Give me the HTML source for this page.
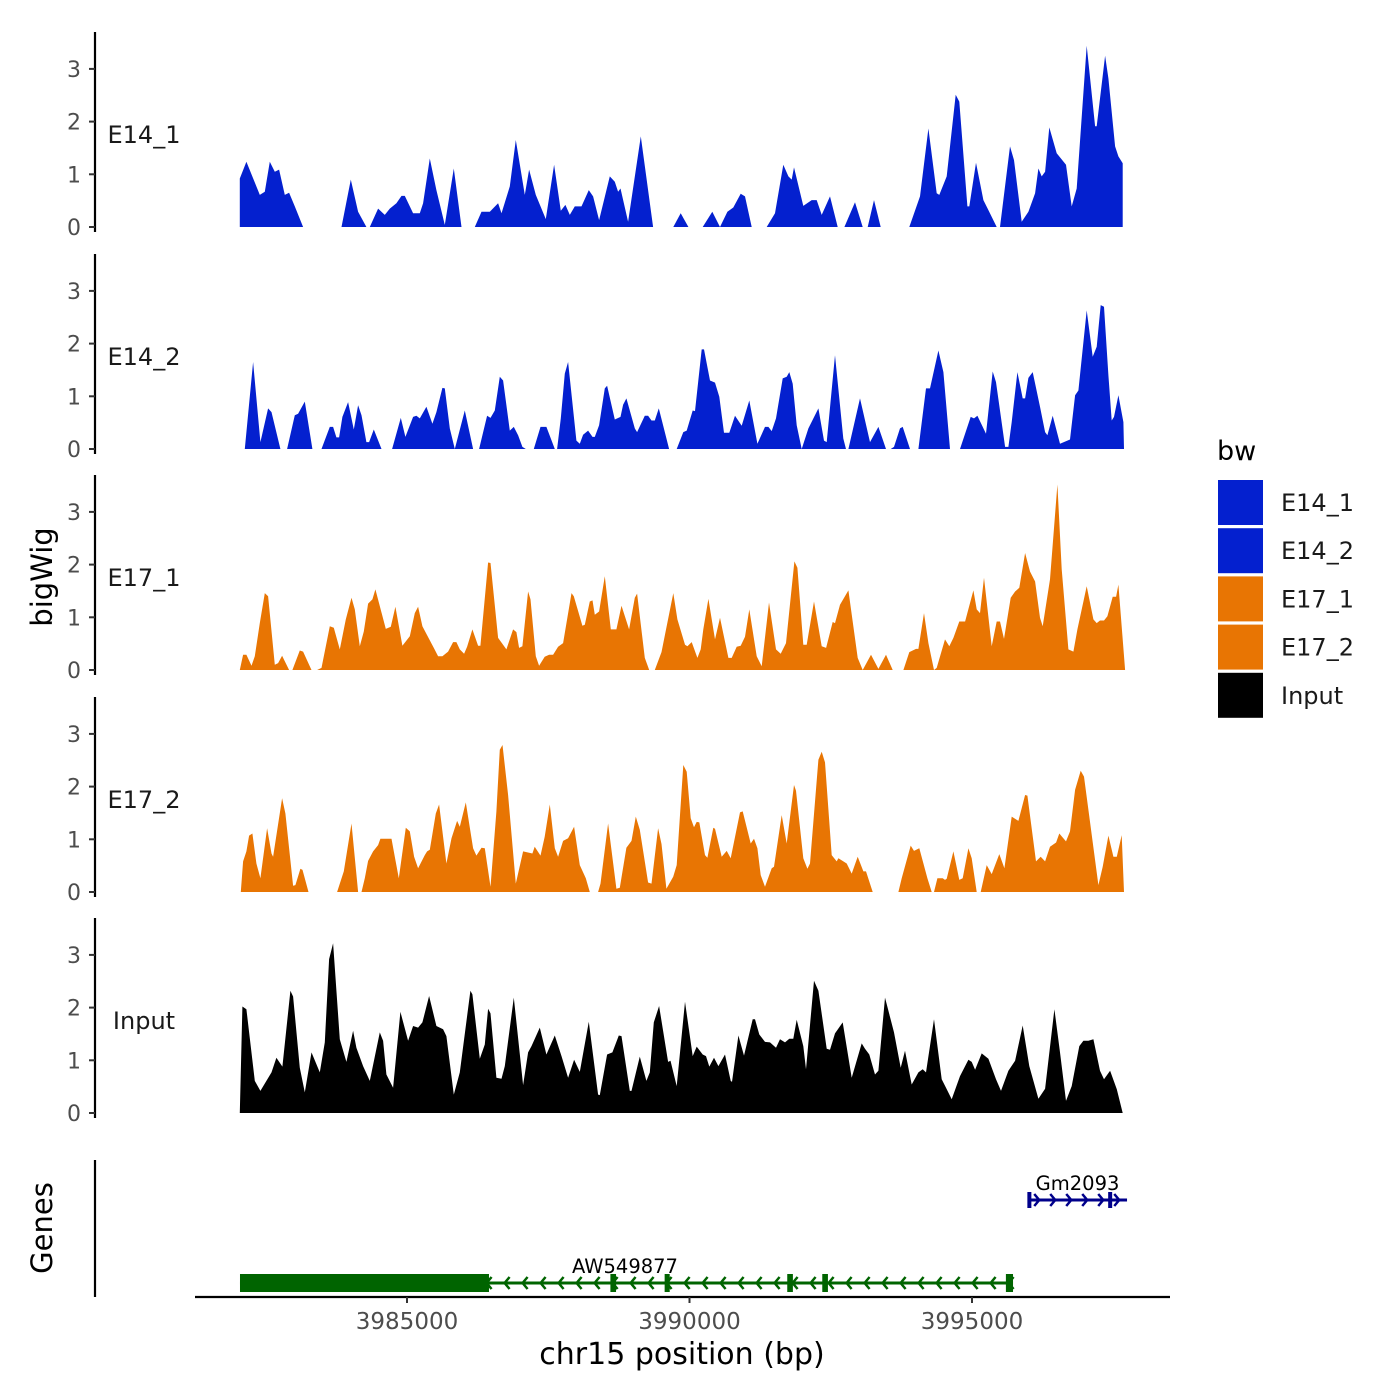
<!DOCTYPE html>
<html><head><meta charset="utf-8">
<style>
html,body{margin:0;padding:0;background:#fff;}
svg{display:block;font-family:"DejaVu Sans","Liberation Sans",sans-serif;}
</style></head>
<body>
<svg id="chart" width="1400" height="1400" viewBox="0 0 1400 1400" xmlns="http://www.w3.org/2000/svg">
<rect width="1400" height="1400" fill="#fff"/>
<g id="panels"></g>
<g id="genes"></g>
<g id="xaxis"></g>
<text x="42" y="577" font-size="29" text-anchor="middle" dominant-baseline="central" transform="rotate(-90 42 577)" fill="#000">bigWig</text>
<text x="42" y="1228" font-size="29" text-anchor="middle" dominant-baseline="central" transform="rotate(-90 42 1228)" fill="#000">Genes</text>
<text x="682" y="1364" font-size="30" text-anchor="middle" fill="#000">chr15 position (bp)</text>
<g id="legend"></g>
</svg>
<script>
const trackNames = ["E14_1","E14_2","E17_1","E17_2","Input"];
const trackColors = ["#0420cf","#0420cf","#e87503","#e87503","#000000"];
const yTicks = [0,1,2,3];
const xTicks = [3985000,3990000,3995000];
const xTickLabels = ["3985000","3990000","3995000"];

const E14_1 = [[3982040,0],[3982041,0.92],[3982158,1.24],[3982394,0.61],[3982483,0.67],[3982571,1.24],[3982660,1.05],[3982736,1.09],[3982837,0.61],[3982913,0.65],[3983014,0.39],[3983161,0],[3983500,null],
[3983840,0],[3984005,0.9],[3984135,0.29],[3984282,0],[3984341,0],[3984489,0.35],[3984607,0.23],[3984695,0.35],[3984813,0.45],[3984902,0.59],[3984961,0.59],[3985108,0.26],[3985226,0.26],[3985285,0.45],[3985403,1.30],[3985521,0.70],[3985669,0.04],[3985828,1.11],[3985964,0],[3986100,null],
[3986200,0],[3986318,0.29],[3986465,0.29],[3986613,0.45],[3986672,0.26],[3986819,0.77],[3986925,1.65],[3987085,0.61],[3987161,1.09],[3987279,0.61],[3987456,0.15],[3987604,1.18],[3987722,0.31],[3987804,0.42],[3987881,0.23],[3987970,0.39],[3988088,0.39],[3988217,0.70],[3988294,0.58],[3988400,0.13],[3988589,0.96],[3988678,0.86],[3988737,0.67],[3988778,0.73],[3988914,0.10],[3989138,1.72],[3989356,0],[3989500,null],
[3989714,0],[3989844,0.26],[3989980,0],[3990100,null],
[3990233,0],[3990404,0.29],[3990540,0],[3990670,0.29],[3990776,0.37],[3990906,0.63],[3990982,0.58],[3991101,0],[3991200,null],
[3991366,0],[3991514,0.26],[3991661,1.18],[3991750,0.96],[3991809,0.9],[3991850,1.13],[3992015,0.40],[3992163,0.51],[3992251,0.51],[3992340,0.23],[3992487,0.58],[3992623,0],[3992700,null],
[3992741,0],[3992930,0.47],[3993065,0],[3993100,null],[3993154,0],[3993266,0.51],[3993384,0],[3993600,null],
[3993891,0],[3994080,0.58],[3994228,1.87],[3994375,0.64],[3994422,0.61],[3994552,0.96],[3994711,2.51],[3994776,2.38],[3994918,0.39],[3994953,0.39],[3995071,1.22],[3995201,0.51],[3995290,0.32],[3995437,0],[3995496,0],[3995673,1.53],[3995744,1.27],[3995880,0.10],[3995998,0.29],[3996116,0.64],[3996175,1.11],[3996234,0.96],[3996293,1.05],[3996369,1.89],[3996499,1.40],[3996664,1.18],[3996765,0.39],[3996853,0.73],[3997030,3.44],[3997178,1.91],[3997207,1.91],[3997355,3.25],[3997414,2.82],[3997532,1.53],[3997591,1.34],[3997667,1.21],[3997668,0]];

const E14_2 = [[3982129,0],[3982276,1.65],[3982406,0.13],[3982542,0.77],[3982601,0.70],[3982760,0],[3982800,null],
[3982878,0],[3983014,0.64],[3983073,0.67],[3983191,0.9],[3983326,0],[3983400,null],
[3983486,0],[3983633,0.42],[3983692,0.42],[3983751,0.22],[3983798,0.22],[3983857,0.61],[3983958,0.89],[3984058,0.37],[3984135,0.83],[3984194,0.64],[3984282,0.13],[3984329,0.13],[3984412,0.37],[3984548,0],[3984600,null],
[3984736,0],[3984890,0.59],[3984972,0.23],[3985108,0.61],[3985167,0.63],[3985226,0.58],[3985344,0.80],[3985450,0.48],[3985521,0.70],[3985627,1.16],[3985669,1.15],[3985757,0.39],[3985846,0],[3986023,0.73],[3986170,0],[3986200,null],
[3986276,0],[3986418,0.63],[3986477,0.59],[3986554,0.73],[3986642,1.37],[3986701,1.30],[3986819,0.35],[3986890,0.42],[3986967,0.26],[3987043,0.04],[3987102,0],[3987150,null],
[3987244,0],[3987362,0.42],[3987468,0.42],[3987616,0],[3987657,0],[3987722,0.58],[3987793,1.43],[3987852,1.65],[3987999,0.16],[3988058,0.10],[3988117,0.27],[3988206,0.35],[3988283,0.23],[3988324,0.23],[3988400,0.45],[3988501,1.15],[3988542,1.20],[3988678,0.56],[3988778,0.61],[3988825,0.84],[3988884,0.96],[3989031,0.39],[3989073,0.32],[3989209,0.63],[3989268,0.63],[3989327,0.54],[3989385,0.54],[3989456,0.77],[3989639,0],[3989700,null],
[3989773,0],[3989891,0.32],[3989950,0.35],[3990056,0.73],[3990098,0.72],[3990216,1.89],[3990257,1.89],[3990363,1.30],[3990452,1.26],[3990528,0.99],[3990611,0.31],[3990705,0.31],[3990806,0.63],[3990924,0.44],[3991059,0.92],[3991201,0.10],[3991337,0.42],[3991396,0.42],[3991455,0.34],[3991531,0.58],[3991649,1.34],[3991720,1.37],[3991767,1.46],[3991826,1.24],[3991897,0.45],[3991986,0],[3992104,0.39],[3992281,0.77],[3992381,0.16],[3992428,0.13],[3992576,1.78],[3992723,0.20],[3992770,0],[3992790,null],
[3992812,0],[3993018,0.96],[3993195,0.13],[3993343,0.42],[3993478,0],[3993520,null],
[3993561,0],[3993620,0.04],[3993726,0.39],[3993773,0.42],[3993903,0],[3993950,null],
[3994051,0],[3994186,1.15],[3994257,1.15],[3994405,1.87],[3994493,1.46],[3994611,0],[3994700,null],
[3994788,0],[3994977,0.61],[3995036,0.58],[3995095,0.63],[3995248,0.29],[3995366,1.47],[3995425,1.27],[3995585,0.04],[3995644,0.04],[3995703,0.51],[3995803,1.46],[3995897,0.96],[3995939,0.96],[3995998,1.35],[3996074,1.46],[3996204,0.80],[3996293,0.32],[3996334,0.26],[3996428,0.63],[3996558,0.10],[3996735,0.18],[3996824,1.02],[3996883,1.11],[3997030,2.63],[3997136,1.75],[3997207,1.94],[3997278,2.73],[3997337,2.70],[3997414,1.40],[3997473,0.54],[3997514,0.61],[3997591,1.02],[3997679,0.51],[3997691,0]];

const E17_1 = [[3982040,0],[3982099,0.29],[3982158,0.29],[3982247,0.08],[3982306,0.26],[3982394,0.89],[3982483,1.46],[3982542,1.40],[3982660,0.10],[3982719,0.13],[3982789,0.27],[3982913,0],[3982972,0],[3983102,0.37],[3983161,0.35],[3983309,0],[3983360,null],
[3983409,0],[3983486,0.04],[3983633,0.83],[3983704,0.80],[3983810,0.39],[3983916,0.96],[3984017,1.37],[3984076,1.15],[3984164,0.45],[3984235,0.73],[3984312,1.26],[3984388,1.34],[3984441,1.53],[3984624,0.78],[3984713,0.82],[3984795,1.20],[3984919,0.46],[3985049,0.64],[3985138,1.08],[3985197,1.20],[3985273,0.83],[3985474,0.42],[3985551,0.26],[3985627,0.26],[3985728,0.35],[3985816,0.53],[3985875,0.53],[3985934,0.39],[3986011,0.31],[3986064,0.44],[3986158,0.77],[3986259,0.46],[3986300,0.46],[3986436,2.04],[3986477,2.03],[3986613,0.61],[3986760,0.39],[3986878,0.77],[3986937,0.72],[3986984,0.42],[3987043,0.45],[3987143,1.49],[3987185,1.34],[3987279,0.26],[3987338,0.08],[3987438,0.25],[3987515,0.29],[3987586,0.29],[3987675,0.44],[3987763,0.51],[3987911,1.46],[3987952,1.40],[3988105,0.84],[3988147,0.86],[3988235,1.30],[3988283,1.32],[3988324,1.05],[3988400,1.11],[3988501,1.78],[3988607,0.77],[3988707,0.77],[3988796,1.22],[3988931,0.77],[3989031,1.37],[3989073,1.45],[3989209,0.23],[3989286,0],[3989330,null],
[3989386,0],[3989504,0.34],[3989714,1.46],[3989785,0.96],[3989921,0.48],[3989962,0.45],[3990039,0.53],[3990139,0.23],[3990198,0.39],[3990245,0.77],[3990334,1.35],[3990452,0.58],[3990540,0.99],[3990688,0.23],[3990747,0.23],[3990835,0.44],[3990906,0.46],[3990982,0.63],[3991059,1.15],[3991189,0.26],[3991278,0.07],[3991407,1.28],[3991531,0.39],[3991614,0.31],[3991708,0.51],[3991856,2.06],[3991909,1.94],[3992015,0.48],[3992074,0.48],[3992203,1.30],[3992340,0.45],[3992417,0.42],[3992534,0.91],[3992576,0.89],[3992664,1.24],[3992812,1.51],[3992977,0.23],[3993065,0],[3993213,0.29],[3993343,0.02],[3993478,0.29],[3993596,0],[3993700,null],
[3993785,0],[3993891,0.34],[3994009,0.40],[3994051,0.40],[3994151,1.08],[3994228,0.51],[3994328,0],[3994375,0.04],[3994523,0.58],[3994599,0.45],[3994670,0.61],[3994776,0.92],[3994877,0.92],[3995024,1.51],[3995084,1.15],[3995142,1.08],[3995213,1.75],[3995349,0.45],[3995437,0.92],[3995496,0.92],[3995567,0.59],[3995685,1.37],[3995762,1.49],[3995838,1.56],[3995939,2.22],[3996027,1.87],[3996116,1.68],[3996204,0.99],[3996251,0.83],[3996381,1.72],[3996511,3.52],[3996588,1.91],[3996706,0.39],[3996794,0.35],[3996865,0.77],[3997030,1.59],[3997148,0.96],[3997207,0.89],[3997266,0.94],[3997337,0.94],[3997396,1.02],[3997491,1.39],[3997550,1.39],[3997591,1.62],[3997709,0]];

const E17_2 = [[3982058,0],[3982099,0.58],[3982158,0.77],[3982205,1.07],[3982264,1.11],[3982335,0.54],[3982406,0.26],[3982524,1.21],[3982601,0.73],[3982630,0.67],[3982789,1.78],[3982848,1.49],[3982984,0.12],[3983025,0.13],[3983114,0.44],[3983150,0.42],[3983256,0],[3983500,null],
[3983763,0],[3983881,0.39],[3984017,1.30],[3984135,0],[3984160,null],
[3984194,0],[3984253,0.26],[3984312,0.59],[3984400,0.77],[3984489,0.89],[3984530,1.01],[3984725,1.01],[3984784,0.67],[3984855,0.26],[3984978,1.22],[3985049,1.15],[3985126,0.67],[3985197,0.45],[3985315,0.70],[3985356,0.77],[3985403,0.80],[3985509,1.49],[3985569,1.66],[3985698,0.54],[3985787,1.02],[3985887,1.35],[3985934,1.24],[3986040,1.70],[3986170,0.83],[3986229,0.69],[3986318,0.84],[3986377,0.83],[3986477,0.10],[3986583,1.53],[3986642,2.70],[3986690,2.79],[3986790,1.84],[3986925,0.16],[3987055,0.77],[3987220,0.73],[3987261,0.86],[3987362,0.69],[3987438,1.05],[3987527,1.66],[3987616,0.83],[3987675,0.67],[3987763,0.97],[3987852,1.02],[3987958,1.24],[3988058,0.51],[3988164,0.26],[3988235,0],[3988300,null],
[3988383,0],[3988424,0.16],[3988560,1.30],[3988707,0.06],[3988766,0.08],[3988884,0.84],[3988973,0.97],[3989049,1.43],[3989120,1.18],[3989268,0.18],[3989327,0.16],[3989445,1.21],[3989504,0.91],[3989592,0.06],[3989711,0.29],[3989773,0.51],[3989891,2.41],[3989950,2.28],[3990021,1.40],[3990080,1.23],[3990127,1.33],[3990174,1.32],[3990275,0.70],[3990316,0.65],[3990422,1.22],[3990452,1.20],[3990570,0.67],[3990658,0.78],[3990729,0.64],[3990894,1.51],[3990941,1.53],[3991083,0.92],[3991142,1.01],[3991201,0.83],[3991260,0.32],[3991337,0.10],[3991455,0.45],[3991496,0.48],[3991632,1.46],[3991720,0.92],[3991850,2.03],[3991885,1.92],[3992015,0.64],[3992086,0.44],[3992133,0.54],[3992281,2.51],[3992340,2.66],[3992399,2.46],[3992517,0.70],[3992605,0.58],[3992635,0.64],[3992782,0.54],[3992871,0.35],[3992977,0.67],[3993077,0.39],[3993124,0.39],[3993242,0],[3993500,null],
[3993697,0],[3993756,0.26],[3993915,0.88],[3993974,0.78],[3994068,0.83],[3994210,0.26],[3994287,0],[3994328,0],[3994387,0.26],[3994481,0.26],[3994523,0.23],[3994552,0.25],[3994670,0.77],[3994776,0.23],[3994835,0.26],[3994936,0.83],[3994995,0.64],[3995084,0],[3995120,null],
[3995154,0],[3995261,0.51],[3995349,0.34],[3995484,0.72],[3995573,0.45],[3995703,1.43],[3995821,1.35],[3995939,1.84],[3995980,1.83],[3996133,0.58],[3996216,0.67],[3996293,0.58],[3996381,0.86],[3996488,0.94],[3996546,1.11],[3996664,0.96],[3996735,1.15],[3996824,1.94],[3996924,2.30],[3996983,2.19],[3997237,0.13],[3997313,0.48],[3997414,1.07],[3997502,0.67],[3997562,0.67],[3997650,1.08],[3997691,0]];

const INPUT = [[3982040,0],[3982087,2.02],[3982158,1.97],[3982306,0.61],[3982406,0.42],[3982601,0.77],[3982689,1.05],[3982795,0.88],[3982937,2.32],[3982984,2.21],[3983102,0.86],[3983191,0.39],[3983309,1.15],[3983456,0.77],[3983545,1.34],[3983621,2.92],[3983692,3.22],[3983810,1.40],[3983928,0.97],[3984046,1.56],[3984105,1.24],[3984223,0.89],[3984341,0.61],[3984518,1.53],[3984577,1.37],[3984636,0.73],[3984754,0.48],[3984884,1.92],[3985020,1.37],[3985108,1.65],[3985197,1.62],[3985273,1.72],[3985391,2.22],[3985521,1.65],[3985639,1.59],[3985698,1.46],[3985828,0.35],[3985934,0.77],[3986123,2.32],[3986158,2.25],[3986288,1.03],[3986377,1.30],[3986436,1.98],[3986477,1.89],[3986583,0.67],[3986672,0.65],[3986731,0.89],[3986890,2.19],[3987055,0.53],[3987143,1.15],[3987203,1.27],[3987350,1.62],[3987468,1.11],[3987616,1.47],[3987734,1.08],[3987852,0.67],[3987958,1.01],[3988058,0.78],[3988218,1.73],[3988383,0.35],[3988412,0.34],[3988542,1.11],[3988636,1.15],[3988748,1.47],[3988796,1.46],[3988943,0.42],[3988973,0.42],[3989120,1.07],[3989238,0.61],[3989297,0.77],[3989368,1.72],[3989462,2.03],[3989622,0.97],[3989663,0.99],[3989773,0.51],[3989921,2.11],[3990056,1.08],[3990127,1.26],[3990233,1.11],[3990292,1.08],[3990351,0.88],[3990434,1.05],[3990511,0.89],[3990629,1.11],[3990729,0.61],[3990752,0.59],[3990865,1.47],[3990965,1.09],[3991118,1.78],[3991160,1.78],[3991236,1.49],[3991337,1.35],[3991425,1.34],[3991531,1.24],[3991602,1.40],[3991690,1.34],[3991767,1.41],[3991838,1.41],[3991897,1.77],[3992015,1.27],[3992062,0.83],[3992204,2.51],[3992281,2.32],[3992428,1.22],[3992487,1.20],[3992576,1.51],[3992711,1.72],[3992871,0.67],[3993048,1.32],[3993107,1.22],[3993183,1.11],[3993284,0.73],[3993343,0.80],[3993461,2.19],[3993620,1.53],[3993738,0.86],[3993815,1.18],[3993933,0.54],[3994051,0.77],[3994127,0.83],[3994186,0.77],[3994328,1.78],[3994464,0.64],[3994540,0.48],[3994641,0.26],[3994788,0.70],[3994936,1.01],[3994995,0.97],[3995054,0.82],[3995172,1.13],[3995290,1.03],[3995425,0.64],[3995513,0.42],[3995644,0.80],[3995762,0.99],[3995897,1.66],[3996015,0.89],[3996175,0.27],[3996293,0.46],[3996458,1.97],[3996558,1.15],[3996664,0.23],[3996765,0.51],[3996900,1.27],[3996971,1.37],[3997060,1.37],[3997148,1.40],[3997266,0.80],[3997337,0.64],[3997444,0.80],[3997562,0.45],[3997668,0]];

const trackData = [E14_1, E14_2, E17_1, E17_2, INPUT];

const geneNames = ["AW549877","Gm2093"];
const geneSpans = [[3982044,3995726],[3995992,3997744]];
const geneStrands = ["-","+"];
const geneColors = ["#006400","#00008b"];
const geneLabelPos = [3988858, 3996868];
const geneExons = [
  [[3982044,3986451],[3988600,3988700],[3989560,3989650],[3991730,3991830],[3992350,3992450],[3995600,3995726]],
  [[3995980,3996010],[3997410,3997470]]
];

const NS = "http://www.w3.org/2000/svg";
function mk(tag, attrs, parent){ const e=document.createElementNS(NS,tag); for(const k in attrs) e.setAttribute(k,attrs[k]); parent.appendChild(e); return e; }
function xScale(bp){ return 407 + (bp-3985000)/5000*282.5; }
const baselines = [227,449,670,892,1113];
const unitPx = 52.7;
function yScale(v, p){ return baselines[p] - v*unitPx; }

const panels = document.getElementById('panels');
trackData.forEach((data, p) => {
  const g = mk('g', {}, panels);
  
  
  const ax = mk('line', {x1:95,x2:95,y1:baselines[p]-195,y2:baselines[p]+5,stroke:'#000','stroke-width':2.2}, g);
  
  
  yTicks.forEach(t => {
    const y = yScale(t,p);
    const tk = mk('line', {x1:89,x2:95,y1:y,y2:y,stroke:'#333','stroke-width':2}, g);
    
    
    const tl = mk('text', {x:81,y:y+8,'font-size':22,'text-anchor':'end',fill:'#4d4d4d'}, g);
    tl.textContent = String(t);
    
    
  });
  const lab = mk('text', {x:144,y:baselines[p]-84,'font-size':24,'text-anchor':'middle',fill:'#1a1a1a'}, g);
  lab.textContent = trackNames[p];
  
  
  let seg = [];
  const flush = () => {
    if (seg.length > 1) {
      let d = 'M' + xScale(seg[0][0]).toFixed(1) + ',' + baselines[p];
      seg.forEach(pt => { d += 'L' + xScale(pt[0]).toFixed(1) + ',' + yScale(pt[1],p).toFixed(1); });
      d += 'L' + xScale(seg[seg.length-1][0]).toFixed(1) + ',' + baselines[p] + 'Z';
      const a = mk('path', {d:d, fill:trackColors[p]}, g);
      
      
    }
    seg = [];
  };
  data.forEach(pt => { if (pt[1] === null) flush(); else seg.push(pt); });
  flush();
});

const gg = document.getElementById('genes');
const gax = mk('line', {x1:95,x2:95,y1:1160,y2:1297,stroke:'#000','stroke-width':2.2}, gg);


const geneY = [1283, 1200];
geneNames.forEach((name, i) => {
  const g = mk('g', {}, gg);
  
  
  const y = geneY[i], col = geneColors[i];
  const x1 = xScale(geneSpans[i][0]), x2 = xScale(geneSpans[i][1]);
  mk('line', {x1:x1,x2:x2,y1:y,y2:y,stroke:col,'stroke-width':3}, g);
  const step = i===0 ? 18 : 16;
  for (let x = x1 + step*0.7; x < x2 - 4; x += step) {
    const dir = geneStrands[i] === '-' ? 1 : -1;
    const ar = mk('path', {d:'M'+(x+dir*5)+','+(y-6)+'L'+x+','+y+'L'+(x+dir*5)+','+(y+6), fill:'none', stroke:col,'stroke-width':2.5}, g);
    
    
  }
  const h = i===0 ? 18 : 16;
  geneExons[i].forEach(ex => {
    const ea = xScale(ex[0]), eb = xScale(ex[1]);
    const r = mk('rect', {x:ea, y:y-h/2, width:Math.max(eb-ea,4), height:h, fill:col}, g);
    
    
  });
  const t = mk('text', {x:xScale(geneLabelPos[i]), y:y-10, 'font-size':19.5,'text-anchor':'middle',fill:'#000'}, g);
  t.textContent = name;
  
  
});

const xa = document.getElementById('xaxis');
const xl = mk('line', {x1:195,x2:1170,y1:1297,y2:1297,stroke:'#000','stroke-width':2.2}, xa);


xTicks.forEach((t, i) => {
  const x = xScale(t);
  const tk = mk('line', {x1:x,x2:x,y1:1297,y2:1303,stroke:'#333','stroke-width':2}, xa);
  
  
  const tl = mk('text', {x:x,y:1329,'font-size':23,'text-anchor':'middle',fill:'#4d4d4d'}, xa);
  tl.textContent = xTickLabels[i];
  
  
});

const lg = document.getElementById('legend');
const lt = mk('text', {x:1217,y:460,'font-size':27,fill:'#000'}, lg);
lt.textContent = 'bw';


trackNames.forEach((n, i) => {
  const y = 480 + i*48.2;
  const r = mk('rect', {x:1218,y:y,width:45,height:45,fill:trackColors[i]}, lg);
  
  
  const t = mk('text', {x:1281,y:y+31,'font-size':24,fill:'#1a1a1a'}, lg);
  t.textContent = n;
  
  
});
</script>
</body></html>
